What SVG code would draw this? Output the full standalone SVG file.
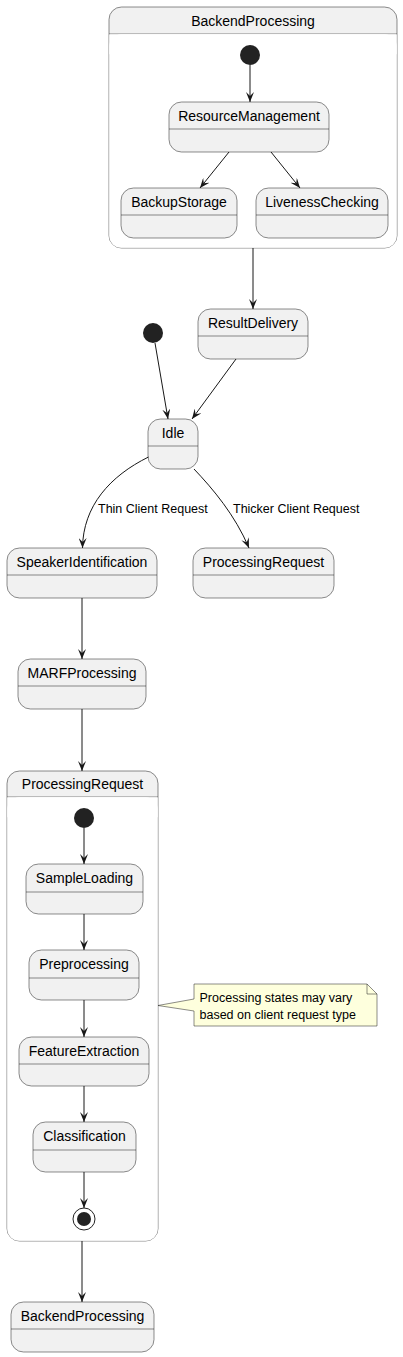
<svg xmlns="http://www.w3.org/2000/svg" width="403" height="1357" viewBox="0 0 403 1357">
<defs>
<style>
.st{fill:#F1F1F1;stroke:#181818;stroke-width:0.5}
.dv{stroke:#181818;stroke-width:0.5;fill:none}
.t{font-family:"Liberation Sans",Arial,sans-serif;font-size:14px;fill:#000;text-anchor:middle}
.l{font-family:"Liberation Sans",Arial,sans-serif;font-size:12.5px;fill:#000}
.e{stroke:#181818;stroke-width:1;fill:none;marker-end:url(#ah)}
.ini{fill:#222222;stroke:none}
</style>
<marker id="ah" viewBox="0 0 10 8" refX="10" refY="4" markerWidth="10" markerHeight="8" markerUnits="userSpaceOnUse" orient="auto">
<path d="M0,0 L10,4 L0,8 L4,4 Z" fill="#181818"/>
</marker>
</defs>
<rect width="403" height="1357" fill="#FFFFFF"/>

<g id="BackendProcessingComposite">
<rect class="st" x="109" y="7" width="288" height="241" rx="12.5" ry="12.5"/>
<path d="M109,7 M109,34 L397,34" class="dv"/>
<rect x="109.3" y="34.25" width="287.4" height="213.5" rx="12" ry="12" fill="#FFFFFF"/>
<rect x="109.3" y="34.25" width="287.4" height="20" fill="#FFFFFF"/>
<text class="t" x="253" y="25.5">BackendProcessing</text>
</g>
<g id="bp_init"><circle class="ini" cx="250" cy="55" r="10"/></g>
<g id="ResourceManagement">
<rect class="st" x="169" y="102" width="160" height="50" rx="12.5" ry="12.5"/>
<line class="dv" x1="169" y1="129" x2="329" y2="129"/>
<text class="t" x="249" y="121">ResourceManagement</text>
</g>
<g id="BackupStorage">
<rect class="st" x="121" y="188" width="116" height="50" rx="12.5" ry="12.5"/>
<line class="dv" x1="121" y1="215" x2="237" y2="215"/>
<text class="t" x="179" y="207">BackupStorage</text>
</g>
<g id="LivenessChecking">
<rect class="st" x="256" y="188" width="132" height="50" rx="12.5" ry="12.5"/>
<line class="dv" x1="256" y1="215" x2="388" y2="215"/>
<text class="t" x="322" y="207">LivenessChecking</text>
</g>
<g id="ResultDelivery">
<rect class="st" x="198" y="309" width="110" height="50" rx="12.5" ry="12.5"/>
<line class="dv" x1="198" y1="336" x2="308" y2="336"/>
<text class="t" x="253" y="328">ResultDelivery</text>
</g>
<g id="main_init"><circle class="ini" cx="153" cy="333" r="10"/></g>
<g id="Idle">
<rect class="st" x="148" y="419" width="50" height="50" rx="12.5" ry="12.5"/>
<line class="dv" x1="148" y1="446" x2="198" y2="446"/>
<text class="t" x="173" y="438">Idle</text>
</g>
<g id="SpeakerIdentification">
<rect class="st" x="7" y="548" width="150" height="50" rx="12.5" ry="12.5"/>
<line class="dv" x1="7" y1="575" x2="157" y2="575"/>
<text class="t" x="82" y="567">SpeakerIdentification</text>
</g>
<g id="ProcessingRequestSimple">
<rect class="st" x="193" y="548" width="141" height="50" rx="12.5" ry="12.5"/>
<line class="dv" x1="193" y1="575" x2="334" y2="575"/>
<text class="t" x="263.5" y="567">ProcessingRequest</text>
</g>
<g id="MARFProcessing">
<rect class="st" x="18" y="659" width="128" height="50" rx="12.5" ry="12.5"/>
<line class="dv" x1="18" y1="686" x2="146" y2="686"/>
<text class="t" x="82" y="678">MARFProcessing</text>
</g>
<g id="ProcessingRequestComposite">
<rect class="st" x="7" y="771" width="151" height="470" rx="12.5" ry="12.5"/>
<line class="dv" x1="7" y1="797" x2="158" y2="797"/>
<rect x="7.3" y="797.25" width="150.4" height="443.5" rx="12" ry="12" fill="#FFFFFF"/>
<rect x="7.3" y="797.25" width="150.4" height="20" fill="#FFFFFF"/>
<text class="t" x="82.5" y="789">ProcessingRequest</text>
</g>
<g id="pr_init"><circle class="ini" cx="84" cy="818" r="10"/></g>
<g id="SampleLoading">
<rect class="st" x="26" y="864" width="117" height="50" rx="12.5" ry="12.5"/>
<line class="dv" x1="26" y1="892" x2="143" y2="892"/>
<text class="t" x="84.5" y="883">SampleLoading</text>
</g>
<g id="Preprocessing">
<rect class="st" x="29" y="950" width="110" height="50" rx="12.5" ry="12.5"/>
<line class="dv" x1="29" y1="978" x2="139" y2="978"/>
<text class="t" x="84" y="969">Preprocessing</text>
</g>
<g id="FeatureExtraction">
<rect class="st" x="19" y="1037" width="130" height="49" rx="12.5" ry="12.5"/>
<line class="dv" x1="19" y1="1064" x2="149" y2="1064"/>
<text class="t" x="84" y="1056">FeatureExtraction</text>
</g>
<g id="Classification">
<rect class="st" x="33" y="1122" width="103" height="50" rx="12.5" ry="12.5"/>
<line class="dv" x1="33" y1="1150" x2="136" y2="1150"/>
<text class="t" x="84.5" y="1141">Classification</text>
</g>
<g id="pr_final">
<circle cx="84" cy="1219" r="11" fill="none" stroke="#222222" stroke-width="1"/>
<circle class="ini" cx="84" cy="1219" r="7"/>
</g>
<g id="BackendProcessingSimple">
<rect class="st" x="11" y="1302" width="143" height="50" rx="12.5" ry="12.5"/>
<line class="dv" x1="11" y1="1329" x2="154" y2="1329"/>
<text class="t" x="82.5" y="1321">BackendProcessing</text>
</g>
<g id="note">
<path d="M194,984 L367,984 L377,994 L377,1026 L194,1026 L194,1011 L158,1005.5 L194,999 Z" fill="#FEFFDD" stroke="#181818" stroke-width="0.5"/>
<path d="M367,984 L367,994 L377,994" fill="none" stroke="#181818" stroke-width="0.5"/>
<text class="l" x="199.5" y="1001.5">Processing states may vary</text>
<text class="l" x="199.5" y="1019">based on client request type</text>
</g>

<g id="connectors">
<line class="e" x1="250" y1="65" x2="250" y2="102"/>
<line class="e" x1="229" y1="152" x2="200" y2="188"/>
<line class="e" x1="271" y1="152" x2="300" y2="188"/>
<line class="e" x1="253" y1="248" x2="253" y2="309"/>
<line class="e" x1="155" y1="343" x2="168" y2="419"/>
<line class="e" x1="236" y1="359" x2="192" y2="419"/>
<path class="e" d="M148.5,457 C110,476 83,506 82.5,548"/>
<path class="e" d="M194,469 C213,489 235,515 249,548"/>
<text class="l" x="98" y="513">Thin Client Request</text>
<text class="l" x="233" y="513">Thicker Client Request</text>
<line class="e" x1="82" y1="598" x2="82" y2="659"/>
<line class="e" x1="82" y1="709" x2="82" y2="771"/>
<line class="e" x1="84" y1="828" x2="84" y2="864"/>
<line class="e" x1="84" y1="914" x2="84" y2="950"/>
<line class="e" x1="84" y1="1000" x2="84" y2="1037"/>
<line class="e" x1="84" y1="1086" x2="84" y2="1122"/>
<line class="e" x1="84" y1="1172" x2="84" y2="1208"/>
<line class="e" x1="82" y1="1241" x2="82" y2="1302"/>
</g>
</svg>
